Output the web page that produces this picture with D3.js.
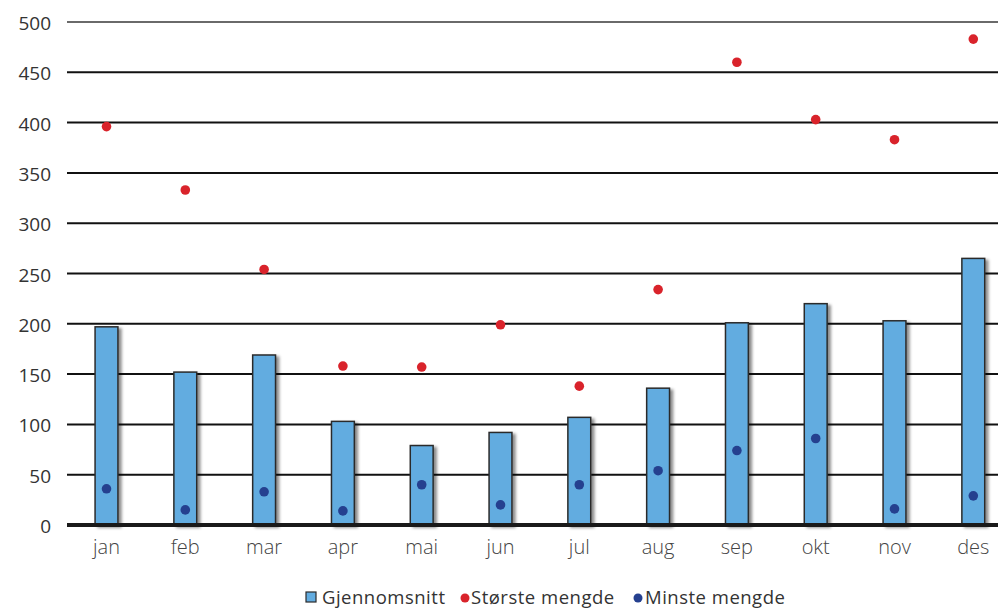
<!DOCTYPE html>
<html>
<head>
<meta charset="utf-8">
<script src="https://cdn.jsdelivr.net/npm/d3@7/dist/d3.min.js"></script>
<style>
  html, body { margin: 0; padding: 0; background: #fff; }
  svg { display: block; }
</style>
</head>
<body>
<div id="chart"></div>
<script>
const months = ["jan","feb","mar","apr","mai","jun","jul","aug","sep","okt","nov","des"];
const gjennomsnitt = [197, 152, 169, 103, 79, 92, 107, 136, 201, 220, 203, 265];
const storste = [396, 333, 254, 158, 157, 199, 138, 234, 460, 403, 383, 483];
const minste = [36, 15, 33, 14, 40, 20, 40, 54, 74, 86, 16, 29];
const yTicks = [0, 50, 100, 150, 200, 250, 300, 350, 400, 450, 500];
const legendLabels = ["Gjennomsnitt", "Største mengde", "Minste mengde"];

const W = 998, H = 608;
const barFill = "#62ace0", barStroke = "#2b2b2b";
const red = "#d9232b", blue = "#25408f";
const font = "'Open Sans', Lato, sans-serif";

const svg = d3.select("#chart").append("svg").attr("width", W).attr("height", H);

const defs = svg.append("defs");
const f = defs.append("filter").attr("id", "shadow").attr("x", "-50%").attr("y", "-10%").attr("width", "200%").attr("height", "130%");
f.append("feDropShadow").attr("dx", 3).attr("dy", 2).attr("stdDeviation", 1.6).attr("flood-color", "#000").attr("flood-opacity", 0.45);

const x = d3.scaleBand().domain(months).range([67.1, 1012.7]).paddingInner(0.71).paddingOuter(0.355);
const y = d3.scaleLinear().domain([0, 500]).range([525, 22]);

// gridlines
svg.append("g").selectAll("line").data(yTicks.filter(d => d > 0)).join("line")
  .attr("x1", 67).attr("x2", W)
  .attr("y1", d => y(d)).attr("y2", d => y(d))
  .attr("stroke", d => d === 500 ? "#6a6a6a" : "#111")
  .attr("stroke-width", 2);

// y tick labels
svg.append("g").selectAll("text").data(yTicks).join("text")
  .attr("x", 51).attr("y", d => y(d) + 1)
  .attr("text-anchor", "end").attr("dominant-baseline", "central")
  .attr("font-family", font).attr("font-size", 19)
  .attr("fill", "#333")
  .text(d => d);

// bars
svg.append("g").selectAll("rect").data(months).join("rect")
  .attr("x", d => x(d)).attr("width", x.bandwidth())
  .attr("y", (d, i) => y(gjennomsnitt[i])).attr("height", (d, i) => y(0) - y(gjennomsnitt[i]))
  .attr("fill", barFill).attr("stroke", barStroke).attr("stroke-width", 1.5)
  .attr("filter", "url(#shadow)");

// zero axis
svg.append("line").attr("x1", 67).attr("x2", W).attr("y1", y(0)).attr("y2", y(0))
  .attr("stroke", "#1a1a1a").attr("stroke-width", 4);

// month labels
svg.append("g").selectAll("text").data(months).join("text")
  .attr("x", d => x(d) + x.bandwidth() / 2).attr("y", 554)
  .attr("text-anchor", "middle")
  .attr("font-family", font).attr("font-weight", 300).attr("font-size", 20)
  .attr("fill", "#444")
  .text(d => d);

// max points
svg.append("g").selectAll("circle").data(months).join("circle")
  .attr("cx", d => x(d) + x.bandwidth() / 2).attr("cy", (d, i) => y(storste[i]))
  .attr("r", 4.8).attr("fill", red);

// min points
svg.append("g").selectAll("circle").data(months).join("circle")
  .attr("cx", d => x(d) + x.bandwidth() / 2).attr("cy", (d, i) => y(minste[i]))
  .attr("r", 4.8).attr("fill", blue);

// legend
const lg = svg.append("g").attr("font-family", font).attr("font-size", 18.5).attr("letter-spacing", 0.5).attr("fill", "#333");
lg.append("rect").attr("x", 306).attr("y", 592).attr("width", 10).attr("height", 10)
  .attr("fill", barFill).attr("stroke", barStroke).attr("stroke-width", 1.2);
lg.append("text").attr("x", 322).attr("y", 604).text(legendLabels[0]);
lg.append("circle").attr("cx", 465).attr("cy", 598).attr("r", 4.5).attr("fill", red);
lg.append("text").attr("x", 471).attr("y", 604).text(legendLabels[1]);
lg.append("circle").attr("cx", 638).attr("cy", 598).attr("r", 4.5).attr("fill", blue);
lg.append("text").attr("x", 645).attr("y", 604).text(legendLabels[2]);
</script>
</body>
</html>
